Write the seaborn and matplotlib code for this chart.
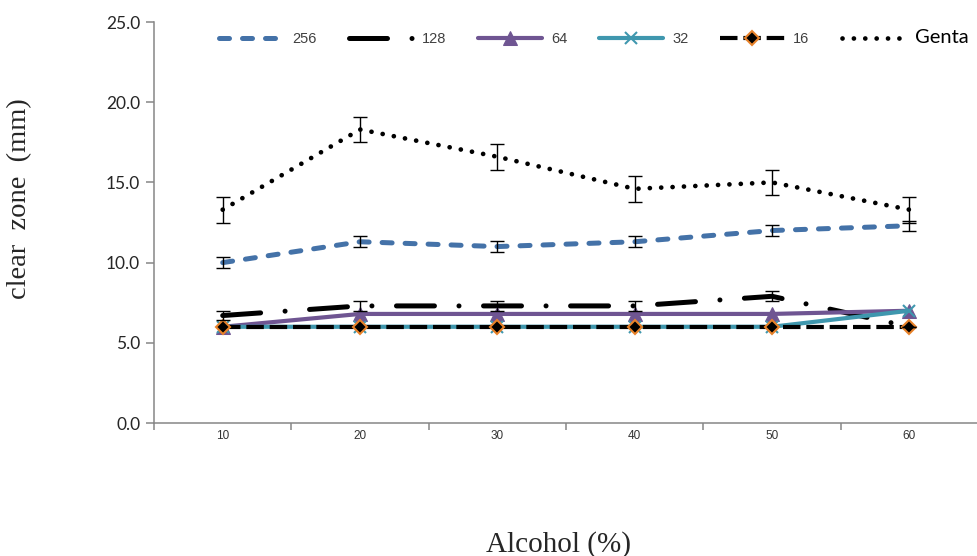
import numpy as np
import pandas as pd
import matplotlib
matplotlib.use("Agg")
import matplotlib.pyplot as plt
import seaborn as sns

alcohol = ["10", "20", "30", "40", "50", "60"]
c256 = [10.0, 11.3, 11.0, 11.3, 12.0, 12.3]
c128 = [6.7, 7.3, 7.3, 7.3, 7.9, 6.0]
c64 = [6.0, 6.8, 6.8, 6.8, 6.8, 7.0]
c32 = [6.0, 6.0, 6.0, 6.0, 6.0, 7.0]
c16 = [6.0, 6.0, 6.0, 6.0, 6.0, 6.0]
genta = [13.3, 18.3, 16.6, 14.6, 15.0, 13.3]
err256 = [0.33, 0.33, 0.33, 0.33, 0.33, 0.3]
err128 = [0.3, 0.3, 0.3, 0.3, 0.3, 0.0]
err_genta = [0.8, 0.8, 0.8, 0.8, 0.8, 0.8]

sns.set_style("white")
plt.rcParams['font.family'] = ['Liberation Sans', 'DejaVu Sans']

fig = plt.figure(figsize=(9.78, 5.56), dpi=100)
ax = fig.add_axes([0.1575, 0.2392, 0.8425, 0.7212])

pos = np.arange(len(alcohol))

series = [
    ("256", c256, dict(color="#4472A8", lw=3.6, linestyle=(0, (2.0, 2.6)),
                       dash_capstyle="round", zorder=3)),
    ("128", c128, dict(color="black", lw=3.6, linestyle=(0, (7.6, 4.9, 0.01, 4.9)),
                       dash_capstyle="round", zorder=4)),
    ("64", c64, dict(color="#6F5592", lw=3.0, marker="^", markersize=10,
                     markeredgecolor="#6F5592", zorder=5)),
    ("32", c32, dict(color="#3F97AE", lw=3.0, marker="x", markersize=8,
                     markeredgecolor="#3F97AE", markeredgewidth=1.5, zorder=6)),
    ("16", c16, dict(color="black", lw=3.0, linestyle=(0, (4.2, 1.4)), marker="D",
                     markersize=7, markerfacecolor="black", markeredgecolor="#E8822A",
                     markeredgewidth=1.5, zorder=7)),
    ("Genta", genta, dict(color="black", lw=3.4, linestyle=(0, (0.01, 2.4)),
                          dash_capstyle="round", zorder=8)),
]

for name, vals, kw in series:
    df = pd.DataFrame({"x": pos, "y": vals})
    sns.lineplot(data=df, x="x", y="y", ax=ax, label=name, sort=False, **kw)

for vals, errs in [(c256, err256), (c128, err128), (genta, err_genta)]:
    ax.errorbar(pos, vals, yerr=errs, fmt="none", ecolor="black", elinewidth=1,
                capsize=4.7, capthick=1, zorder=9)

ax.set_xlim(-0.5, 5.5)
ax.set_ylim(0, 25)
ax.set_yticks(np.arange(0, 26, 5))
ax.set_yticklabels([f"{v:.1f}" for v in np.arange(0, 26, 5)],
                   fontsize=12.5, family=['Lato', 'DejaVu Sans'])
ax.set_xticks(np.arange(-0.5, 6, 1))
ax.set_xticklabels([])
ax.set_xticks(pos, minor=True)
ax.set_xticklabels(alcohol, minor=True, fontsize=8.5, color="#333333")
ax.tick_params(axis="x", which="minor", length=0, pad=5)
ax.tick_params(axis="x", which="major", length=5, width=1.1, color="#868686",
               direction="out", bottom=True)
ax.tick_params(axis="y", length=6, width=1.1, color="#868686", direction="out",
               left=True, pad=4)

for s in ["top", "right"]:
    ax.spines[s].set_visible(False)
for s in ["left", "bottom"]:
    ax.spines[s].set_color("#868686")
    ax.spines[s].set_linewidth(1.1)

ax.set_xlabel("")
ax.set_ylabel("")
fig.text(0.571, 0.008, "Alcohol (%)", fontsize=21, ha="center", va="baseline",
         family=['Liberation Serif', 'DejaVu Serif'])
fig.text(0.0205, 0.642, "clear  zone  (mm)", fontsize=20.5, rotation=90, ha="center",
         va="center", family=['Liberation Serif', 'DejaVu Serif'])

ax.get_legend().remove()
handles, labels = ax.get_legend_handles_labels()
leg = fig.legend(handles, labels, loc="center", bbox_to_anchor=(0.607, 0.933),
                 ncol=6, frameon=False, fontsize=10.5, handlelength=4.4,
                 handletextpad=0.6, columnspacing=2.2)
for t in leg.get_texts():
    t.set_color("#404040")
leg.get_texts()[-1].set_fontsize(14.5)
leg.get_texts()[-1].set_color("black")
leg.get_texts()[-1].set_family(['Lato', 'DejaVu Sans'])

fig.savefig("out.png", dpi=100)
